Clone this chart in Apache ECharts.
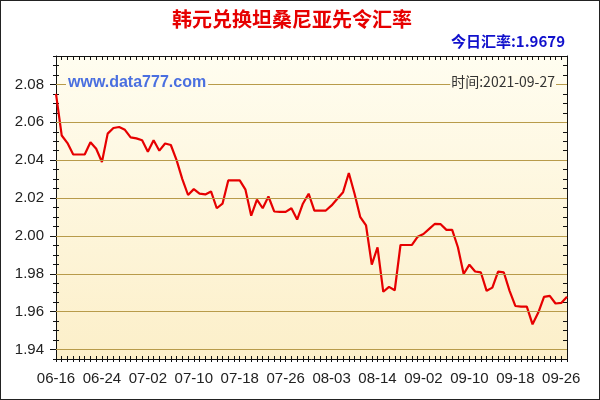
<!DOCTYPE html>
<html>
<head>
<meta charset="utf-8">
<script src="https://cdn.jsdelivr.net/npm/echarts@6/dist/echarts.min.js"></script>
<style>
html,body{margin:0;padding:0;background:#fff;}
#wrap{width:600px;height:400px;box-sizing:border-box;border:1px solid #222;position:relative;overflow:hidden;}
#chart{position:absolute;left:-1px;top:-1px;width:600px;height:400px;}
</style>
</head>
<body>
<div id="wrap"><div id="chart"></div></div>
<script>
const categories = [
 '06-16','06-17','06-18','06-19','06-20','06-21','06-22','06-23','06-24','06-25','06-26','06-27','06-28','06-29','06-30',
 '07-01','07-02','07-03','07-04','07-05','07-06','07-07','07-08','07-09','07-10','07-11','07-12','07-13','07-14','07-15','07-16',
 '07-17','07-18','07-19','07-20','07-21','07-22','07-23','07-24','07-25','07-26','07-27','07-28','07-29','07-30','07-31',
 '08-01','08-02','08-03','08-04','08-05','08-06','08-09','08-10','08-11','08-12','08-14',
 '08-16','08-17','08-18','08-19','08-20','08-30','08-31',
 '09-02','09-03','09-04','09-05','09-06','09-07','09-08','09-09','09-10','09-11','09-12','09-13','09-14','09-15','09-16',
 '09-17','09-18','09-19','09-20','09-21','09-22','09-23','09-24','09-25','09-26','09-27'
];
const rates = [
 2.075, 2.053, 2.049, 2.043, 2.043, 2.043, 2.0495, 2.046, 2.039, 2.054,
 2.057, 2.0575, 2.056, 2.052, 2.0515, 2.0505, 2.0445, 2.0505, 2.045, 2.0488,
 2.048, 2.040, 2.030, 2.0216, 2.0247, 2.0223, 2.0219, 2.0235, 2.0146, 2.017,
 2.0293, 2.0293, 2.0293, 2.0244, 2.0107, 2.0191, 2.0146, 2.0208, 2.0129, 2.0127,
 2.0127, 2.0146, 2.0086, 2.017, 2.0223, 2.0134, 2.0134, 2.0134, 2.0161, 2.0196,
 2.0231, 2.0332, 2.0223, 2.0099, 2.0055, 1.9848, 1.994, 1.9705, 1.9731, 1.9713,
 1.9952, 1.9952, 1.9952, 1.9996, 2.001, 2.0037, 2.0064, 2.0062, 2.0032, 2.0032,
 1.994, 1.9799, 1.9848, 1.9812, 1.9807, 1.971, 1.9727, 1.9811, 1.9807, 1.971,
 1.963, 1.9627, 1.9627, 1.9533, 1.9595, 1.9678, 1.9683, 1.9643, 1.9646, 1.9679
];
const yTickLabels = [1.94, 1.96, 1.98, 2.00, 2.02, 2.04, 2.06, 2.08];
const titleText = '韩元兑换坦桑尼亚先令汇率';
const todayText = '今日汇率:1.9679';
const siteText = 'www.data777.com';
const timeText = '时间:2021-09-27';

const Y_MIN = 1.935, Y_MAX = 2.095, Y_STEP = 0.005;
const gridColor = '#b89b4a';
const axisColor = '#111';
const labelFont = {fontFamily: 'Liberation Sans, Arial, sans-serif', fontSize: 15, color: '#222'};

const chart = echarts.init(document.getElementById('chart'), null, {renderer: 'canvas'});

function yAx(extra) {
  return Object.assign({
    type: 'value', min: Y_MIN, max: Y_MAX, interval: Y_STEP, position: 'left',
    splitLine: {show: false},
    axisLine: {show: false},
    axisLabel: {show: false},
    axisTick: {show: false}
  }, extra);
}
function xAx(extra) {
  return Object.assign({
    type: 'category', data: categories, boundaryGap: false, position: 'bottom',
    splitLine: {show: false},
    axisLine: {show: false},
    axisLabel: {show: false},
    axisTick: {show: false}
  }, extra);
}

const option = {
  animation: false,
  backgroundColor: '#fff',
  grid: {
    left: 56, right: 33, top: 56, bottom: 41,
    show: true, borderWidth: 0,
    backgroundColor: new echarts.graphic.LinearGradient(0, 0, 0, 1, [
      {offset: 0, color: '#fffdf0'},
      {offset: 1, color: '#fcefc9'}
    ])
  },
  xAxis: [
    xAx({
      axisLine: {show: true, onZero: false, lineStyle: {color: axisColor, width: 1}},
      axisTick: {show: true, interval: 0, length: 3, inside: false, lineStyle: {color: axisColor}},
      axisLabel: Object.assign({show: true, interval: 7, margin: 12}, labelFont)
    }),
    xAx({axisTick: {show: true, interval: 0, length: 3, inside: true, lineStyle: {color: axisColor}}}),
    xAx({position: 'top',
      axisLine: {show: true, onZero: false, lineStyle: {color: axisColor, width: 1}},
      axisTick: {show: true, interval: 0, length: 4, inside: true, lineStyle: {color: axisColor}}})
  ],
  yAxis: [
    yAx({
      axisLine: {show: true, onZero: false, lineStyle: {color: axisColor, width: 1}},
      axisTick: {show: true, length: 3, inside: false, lineStyle: {color: axisColor}},
      axisLabel: Object.assign({
        show: true, margin: 12,
        customValues: yTickLabels,
        formatter: v => v.toFixed(2)
      }, labelFont)
    }),
    yAx({axisTick: {show: true, length: 3, inside: true, lineStyle: {color: axisColor}}}),
    yAx({axisTick: {show: true, length: 6, inside: false, customValues: yTickLabels, lineStyle: {color: axisColor}}}),
    yAx({position: 'right',
      axisLine: {show: true, onZero: false, lineStyle: {color: axisColor, width: 1}},
      axisTick: {show: true, length: 4, inside: true, lineStyle: {color: axisColor}}})
  ],
  series: [
    {
      name: 'grid', type: 'line', data: [], xAxisIndex: 0, yAxisIndex: 0, z: 1, silent: true,
      markLine: {
        silent: true, symbol: ['none', 'none'], label: {show: false}, animation: false,
        lineStyle: {color: gridColor, width: 1, type: 'solid'},
        emphasis: {disabled: true},
        data: yTickLabels.map(v => ({yAxis: v}))
      }
    },
    {
      name: '汇率', type: 'line', data: rates, xAxisIndex: 0, yAxisIndex: 0, z: 3,
      showSymbol: false, symbol: 'none', smooth: false,
      lineStyle: {color: '#e60000', width: 2.2}
    }
  ],
  graphic: [
    {type: 'text', left: 172, top: 9, z: 10,
     style: {text: titleText, font: 'bold 20px "Noto Sans CJK SC", sans-serif', fill: '#e60000'}},
    {type: 'text', right: 35, top: 34, z: 10,
     style: {text: todayText, font: 'bold 15px "Noto Sans CJK SC", sans-serif', fill: '#1010cc'}},
    {type: 'text', left: 66, top: 75, z: 10,
     style: {text: siteText, font: 'bold 16px "Liberation Sans", Arial, sans-serif', fill: '#4a6fe0',
             backgroundColor: '#fffbea', padding: [0, 2, 0, 2]}},
    {type: 'text', right: 44, top: 75, z: 10,
     style: {text: timeText, font: '14px "Noto Sans CJK SC", sans-serif', fill: '#333',
             backgroundColor: '#fffbea', padding: [0, 1, 0, 1]}}
  ]
};
chart.setOption(option);
</script>
</body>
</html>
